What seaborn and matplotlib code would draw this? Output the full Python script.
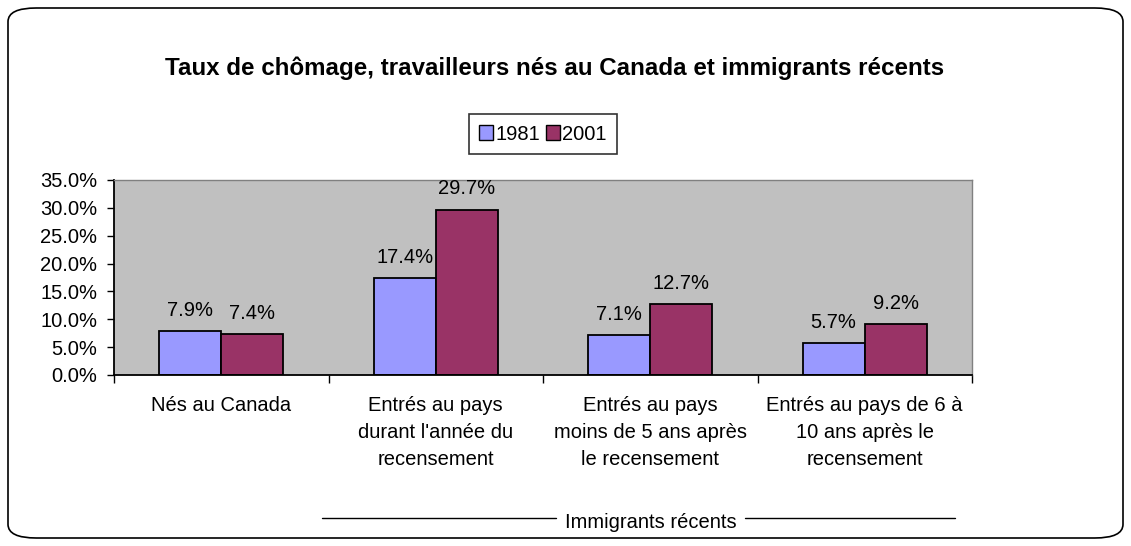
import matplotlib
matplotlib.use("Agg")
import matplotlib.pyplot as plt
import seaborn as sns
import pandas as pd
from matplotlib.patches import FancyBboxPatch
from matplotlib.lines import Line2D
from matplotlib.ticker import FuncFormatter, MultipleLocator

categories = ["Nés au Canada",
              "Entrés au pays\ndurant l'année du\nrecensement",
              "Entrés au pays\nmoins de 5 ans après\nle recensement",
              "Entrés au pays de 6 à\n10 ans après le\nrecensement"]
years = ["1981", "2001"]
values_1981 = [7.9, 17.4, 7.1, 5.7]
values_2001 = [7.4, 29.7, 12.7, 9.2]
title = "Taux de chômage, travailleurs nés au Canada et immigrants récents"
group_label = "Immigrants récents"
colors = ["#9999FF", "#993366"]

df = pd.DataFrame({
    "cat": categories * 2,
    "year": [years[0]] * 4 + [years[1]] * 4,
    "val": values_1981 + values_2001,
})

sns.set_theme(style="white")
plt.rcParams["font.family"] = ["Liberation Sans", "DejaVu Sans"]
plt.rcParams["text.color"] = "black"
plt.rcParams["xtick.color"] = "black"
plt.rcParams["ytick.color"] = "black"
plt.rcParams["axes.labelcolor"] = "black"
FS = 14.5

fig = plt.figure(figsize=(11.31, 5.46), dpi=100)
ax = fig.add_axes([114/1131, 1-375/546, (972-114)/1131, (375-180)/546])

sns.barplot(data=df, x="cat", y="val", hue="year", palette=colors, ax=ax,
            width=0.58, edgecolor="black", linewidth=1.3, saturation=1, legend=False)

ax.set_facecolor("#C0C0C0")
ax.set_ylim(0, 35)
ax.set_xlim(-0.5, 3.5)
ax.yaxis.set_major_locator(MultipleLocator(5))
ax.yaxis.set_major_formatter(FuncFormatter(lambda v, p: f"{v:.1f}%"))
ax.set_xlabel("")
ax.set_ylabel("")
ax.tick_params(axis="y", labelsize=FS, length=5, width=1, colors="black", direction="out", left=True, pad=7)
ax.set_xticks([-0.5, 0.5, 1.5, 2.5, 3.5])
ax.set_xticklabels([])
ax.tick_params(axis="x", length=6, width=1, colors="black", direction="out", bottom=True)
for i, c in enumerate(categories):
    ax.text(i, -0.11, c, transform=ax.get_xaxis_transform(), ha="center", va="top",
            fontsize=FS, linespacing=1.52, color="black")
for side in ["top", "right"]:
    ax.spines[side].set_color("#808080")
    ax.spines[side].set_linewidth(1)
for side in ["left", "bottom"]:
    ax.spines[side].set_color("black")
    ax.spines[side].set_linewidth(1.3)

for cont in ax.containers:
    ax.bar_label(cont, labels=[f"{v:.1f}%" for v in cont.datavalues], padding=8, fontsize=FS, color="black")

fig.text(555/1131, 1-68/546, title, ha="center", va="center", fontsize=17.4, fontweight="bold", color="black")

# legend
handles = [plt.Rectangle((0, 0), 1, 1, facecolor=colors[i], edgecolor="black", linewidth=1) for i in range(2)]
leg = fig.legend(handles, years, loc="center", bbox_to_anchor=(543/1131, 1-134/546), ncol=2,
                 fontsize=FS, frameon=True, fancybox=False, handlelength=0.7, handleheight=0.7,
                 handletextpad=0.1, columnspacing=0.3, borderpad=0.5, labelcolor="black")
leg.get_frame().set_edgecolor("black")
leg.get_frame().set_linewidth(1.2)

# group line
fig.add_artist(Line2D([322/1131, 556/1131], [1-518/546]*2, color="black", lw=1))
fig.add_artist(Line2D([745/1131, 955/1131], [1-518/546]*2, color="black", lw=1))
fig.text(651/1131, 1-523/546, group_label, ha="center", va="center", fontsize=FS, color="black")

# rounded border
fig.patches.append(FancyBboxPatch((8/1131, 8/546), (1123-8)/1131, (538-8)/546,
                                  boxstyle="round,pad=0,rounding_size=0.025", transform=fig.transFigure,
                                  facecolor="none", edgecolor="black", linewidth=1.2))

fig.savefig("out.png", dpi=100)
